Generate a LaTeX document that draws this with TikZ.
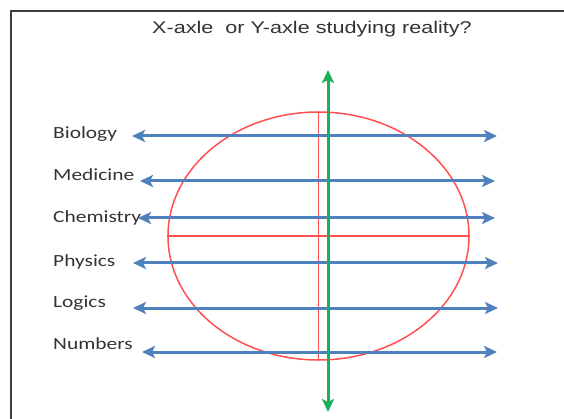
\documentclass[tikz,border=0pt]{standalone}
\usepackage{fontspec}
\usepackage{tikz}
\usetikzlibrary{arrows.meta,shapes.geometric}
\newfontfamily\titlefont{Liberation Sans}
\newfontfamily\subjfont{Carlito}
\definecolor{AxBlue}{HTML}{4F81BD}
\definecolor{AxRed}{HTML}{FF4F4F}
\definecolor{AxGreen}{HTML}{1BAF5A}
\definecolor{AxFrame}{HTML}{404040}
\newcommand{\wider}[2][1.26]{\scalebox{#1}[1]{#2}}

\begin{document}
\begin{tikzpicture}[x=1pt,y=-1pt,
  subj/.style={anchor=base west,inner sep=0pt,text=black!80,font=\subjfont\fontsize{17}{20}\selectfont},
  sline/.style={AxBlue,line width=3pt,{Stealth[length=13pt,width=12pt,inset=3pt]}-{Stealth[length=13pt,width=12pt,inset=3pt]}}]
\useasboundingbox (0,0) rectangle (564,419);
\draw[line width=2pt,AxFrame] (11,419)--(11,11)--(564,11);
\node[anchor=base,inner sep=0pt,text=black!80,font=\titlefont\fontsize{17}{20}\selectfont] (title) at (312,34) {\wider[1.27]{X-axle\ \ or Y-axle studying reality?}};
% the oval with its two diameters
\node[draw=AxRed,line width=1.5pt,ellipse,inner sep=0pt,minimum width=301pt,minimum height=248pt] (oval) at (318.5,236) {};
\draw[AxRed,line width=1.5pt] (oval.west)--(oval.east);
\draw[AxRed,line width=1.5pt] (oval.north)--(oval.south);
% subjects
\node[subj] (bio) at (53,139) {\wider{Biology}};
\node[subj] (med) at (53,181) {\wider{Medicine}};
\node[subj] (chem) at (53,223) {\wider{Chemistry}};
\node[subj] (phys) at (53,266) {\wider{Physics}};
\node[subj] (logic) at (53,307) {\wider{Logics}};
\node[subj] (num) at (53,349) {\wider{Numbers}};
\coordinate (bioL) at (132,136); \coordinate (bioR) at (497,136);
\coordinate (medL) at (140,181); \coordinate (medR) at (495,181);
\coordinate (chemL) at (138,218); \coordinate (chemR) at (495,218);
\coordinate (physL) at (133,263); \coordinate (physR) at (498,263);
\coordinate (logicL) at (133,308); \coordinate (logicR) at (498,308);
\coordinate (numL) at (142,352); \coordinate (numR) at (497,352);
\draw[sline] (bioL)--(bioR);
\draw[sline] (medL)--(medR);
\draw[sline] (chemL)--(chemR);
\draw[sline] (physL)--(physR);
\draw[sline] (logicL)--(logicR);
\draw[sline] (numL)--(numR);
% the Y-axle
\coordinate (ytop) at (328,70); \coordinate (ybot) at (328,412);
\draw[AxGreen,line width=3pt,{Stealth[length=13pt,width=12pt,inset=3pt]}-{Stealth[length=13pt,width=12pt,inset=3pt]}] (ybot)--(ytop);
\end{tikzpicture}
\end{document}
